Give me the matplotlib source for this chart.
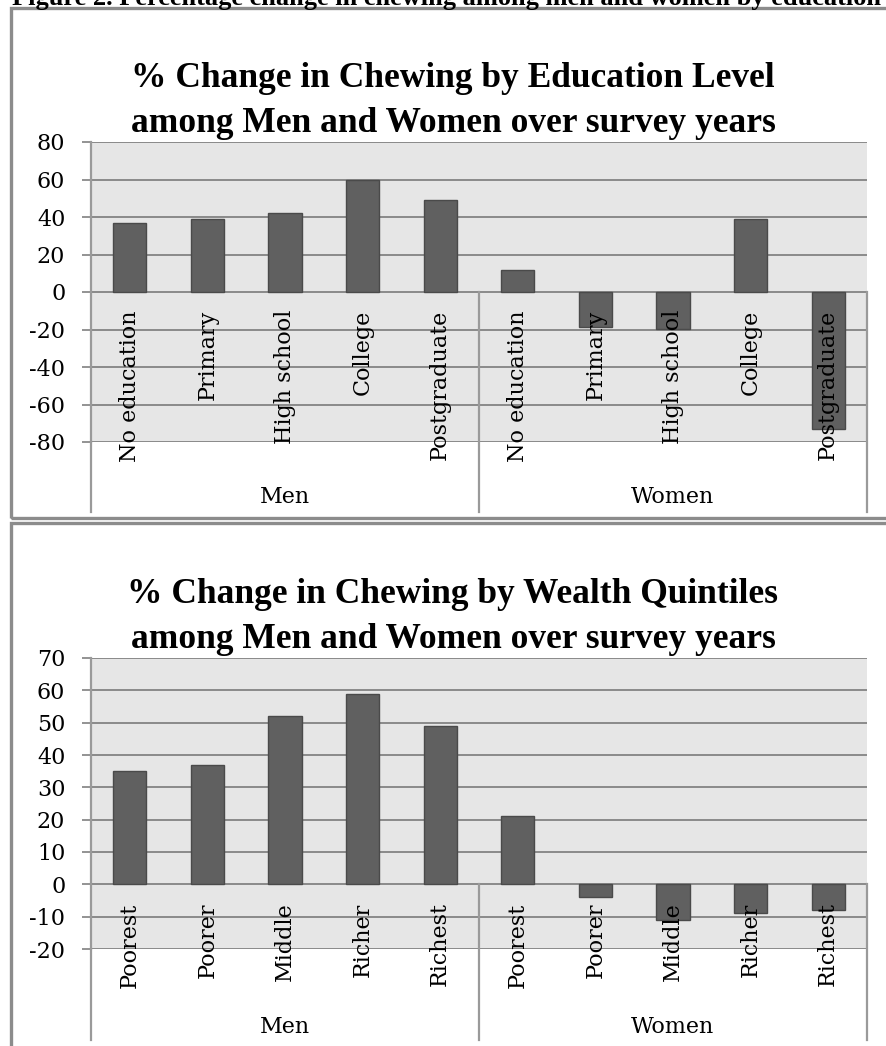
import matplotlib
matplotlib.use("Agg")
import matplotlib.pyplot as plt
from matplotlib.patches import Rectangle
from matplotlib.lines import Line2D
from matplotlib.transforms import blended_transform_factory

plt.rcParams['axes.unicode_minus'] = False

# ---------------- data ----------------
groups = ["Men", "Women"]
edu_levels = ["No education", "Primary", "High school", "College", "Postgraduate"]
edu_men = [37, 39, 42, 60, 49]
edu_women = [12, -18.5, -19.5, 39, -73]
edu_yticks = [80, 60, 40, 20, 0, -20, -40, -60, -80]

wealth_levels = ["Poorest", "Poorer", "Middle", "Richer", "Richest"]
wealth_men = [35, 37, 52, 59, 49]
wealth_women = [21, -4, -11, -9, -8]
wealth_yticks = [70, 60, 50, 40, 30, 20, 10, 0, -10, -20]

title_top = "% Change in Chewing by Education Level\namong Men and Women over survey years"
title_bot = "% Change in Chewing by Wealth Quintiles\namong Men and Women over survey years"
caption = "Figure 2. Percentage change in chewing among men and women by education level"

W, H = 887, 1046
fig = plt.figure(figsize=(W / 100, H / 100), dpi=100)

def fx(x):
    return x / W

def fy(y):
    return 1 - y / H

SERIF = "DejaVu Serif"
TITLE_FONT = "Liberation Serif"
FRAME_C = "#8c8c8c"
GRID_C = "#8a8a8a"
AX_C = "#9a9a9a"
BAR_C = "#606060"
BAR_E = "#4a4a4a"
BG_C = "#e6e6e6"

# caption (cut off at top of page, as in the source)
fig.text(fx(12), fy(5), caption, ha="left", va="baseline", fontsize=19,
         fontweight="bold", family=TITLE_FONT, color="black")

# chart frames
fig.add_artist(Rectangle((fx(11), fy(518)), fx(900) - fx(11), fy(8) - fy(518),
                         transform=fig.transFigure, fill=False, ec=FRAME_C, lw=2.4))
fig.add_artist(Rectangle((fx(11), fy(1060)), fx(900) - fx(11), fy(523) - fy(1060),
                         transform=fig.transFigure, fill=False, ec=FRAME_C, lw=2.4))


def make_chart(top_px, bot_px, title, title_y, levels, men, women, yticks, axis_end_px, group_y):
    ax = fig.add_axes([fx(91), fy(bot_px), fx(867) - fx(91), fy(top_px) - fy(bot_px)])
    ax.set_facecolor(BG_C)
    cats = levels + levels
    vals = men + women
    xs = list(range(len(cats)))
    ax.set_xlim(-0.5, len(cats) - 0.5)
    ax.set_ylim(min(yticks), max(yticks))
    ax.set_yticks(yticks)
    ax.set_yticklabels([str(t) for t in yticks], family=SERIF, fontsize=16)
    ax.set_axisbelow(True)
    ax.grid(axis="y", color=GRID_C, lw=1.4)
    ax.set_xticks([])
    for s in ["top", "right", "bottom"]:
        ax.spines[s].set_visible(False)
    ax.spines["left"].set_color(AX_C)
    ax.spines["left"].set_linewidth(1.6)
    ax.tick_params(axis="y", direction="out", length=6.5, width=1.3, color=GRID_C, pad=12)

    ax.bar(xs, vals, width=0.43, color=BAR_C, edgecolor=BAR_E, lw=1, zorder=2)

    for x, lab in zip(xs, cats):
        ax.annotate(lab, xy=(x, 0), xytext=(0, -13), textcoords="offset points",
                    rotation=90, ha="center", va="top", family=SERIF, fontsize=16,
                    color="black", zorder=5, annotation_clip=False)

    # axis / group divider lines below plot
    bt = blended_transform_factory(ax.transData, fig.transFigure)
    zero_fig = fig.transFigure.inverted().transform(ax.transData.transform((0, 0)))[1]
    fig.add_artist(Line2D([-0.5, -0.5], [fy(bot_px), fy(axis_end_px)], transform=bt,
                          color=AX_C, lw=1.6))
    n = len(levels)
    for xd in [n - 0.5, 2 * n - 0.5]:
        fig.add_artist(Line2D([xd, xd], [zero_fig, fy(axis_end_px)], transform=bt,
                              color=AX_C, lw=1.6, zorder=6))
    for gi, g in enumerate(groups):
        cx = gi * n + (n - 1) / 2
        ax.text(cx, fy(group_y), g, transform=bt, ha="center", va="center",
                family=SERIF, fontsize=16, color="black")

    fig.text(fx(453), fy(title_y), title, ha="center", va="center", fontsize=25.5,
             fontweight="bold", family=TITLE_FONT, linespacing=1.5, color="black")
    return ax


make_chart(142, 442, title_top, 101, edu_levels, edu_men, edu_women, edu_yticks, 512, 497)
make_chart(658, 949, title_bot, 617, wealth_levels, wealth_men, wealth_women, wealth_yticks, 1040, 1027)

fig.savefig("out.png", dpi=100)
